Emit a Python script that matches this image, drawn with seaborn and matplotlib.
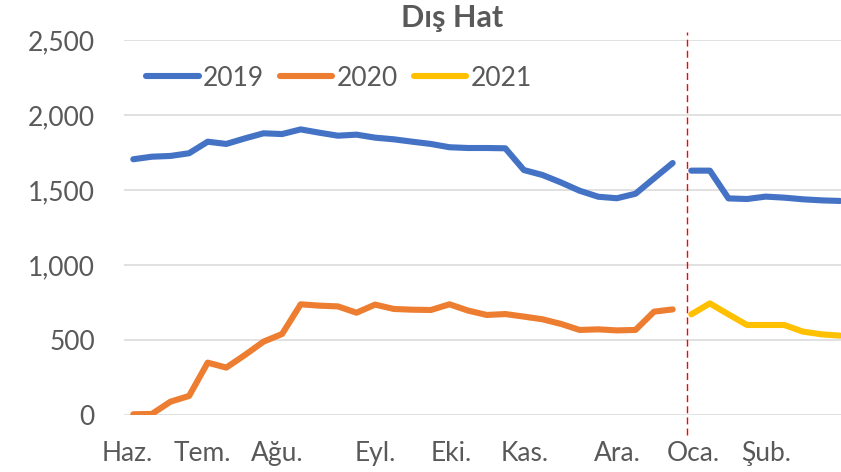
import numpy as np
import matplotlib
matplotlib.use("Agg")
import matplotlib.pyplot as plt
import seaborn as sns

# weekly values, Haziran -> Şubat (index 0..38), break between 29 and 30
weeks = list(range(39))
y2019 = [1705, 1722, 1727, 1745, 1822, 1807, 1844, 1878, 1873, 1904,
         1882, 1862, 1869, 1849, 1838, 1822, 1807, 1785, 1780, 1780,
         1778, 1633, 1600, 1550, 1495, 1455, 1445, 1475, 1578, 1680,
         1629, 1629, 1444, 1440, 1456, 1449, 1438, 1431, 1427]
y2020 = [5, 7, 89, 127, 349, 316, 400, 489, 540, 738,
         729, 724, 682, 736, 707, 702, 700, 738, 696, 667,
         673, 656, 638, 607, 567, 571, 564, 567, 689, 704]
y2021 = [671, 744, 671, 600, 600, 600, 556, 538, 529]

month_labels = ['Haz.', 'Tem.', 'Ağu.', 'Eyl.', 'Eki.', 'Kas.', 'Ara.', 'Oca.', 'Şub.']
month_pos = [-0.3, 3.7, 7.75, 13.0, 17.1, 21.05, 26.0, 30.1, 34.0]

sns.set_style("white")
plt.rcParams['font.family'] = ['Lato', 'DejaVu Sans']
grey = '#595959'

fig = plt.figure(figsize=(8.41, 4.72), dpi=100)
ax = fig.add_axes([124/841, 57/472, 1 - 124/841, 375/472])

lw = 4.4
kw = dict(linewidth=lw, solid_capstyle='round', solid_joinstyle='round', ax=ax)
sns.lineplot(x=weeks[:30], y=y2019[:30], color='#4472C4', label='2019', **kw)
sns.lineplot(x=weeks[30:], y=y2019[30:], color='#4472C4', **kw)
sns.lineplot(x=weeks[:30], y=y2020, color='#ED7D31', label='2020', **kw)
sns.lineplot(x=weeks[30:], y=y2021, color='#FFC000', label='2021', **kw)

# dashed year separator
ax.axvline(29.75, ymin=-0.053, ymax=1.022, color='#FF0000', linestyle=(0, (5, 3)),
           linewidth=1.0, clip_on=False, zorder=5)

ax.set_xlim(-0.5, 38.05)
ax.set_ylim(0, 2500)
ax.set_yticks([0, 500, 1000, 1500, 2000, 2500])
ax.set_yticklabels([f'{v:,}' for v in [0, 500, 1000, 1500, 2000, 2500]])
ax.set_xticks(month_pos)
ax.set_xticklabels(month_labels)
ax.tick_params(axis='y', length=0, pad=21, labelsize=19, labelcolor=grey)
ax.tick_params(axis='x', length=0, pad=19, labelsize=19, labelcolor=grey)
ax.grid(axis='y', color='#D9D9D9', linewidth=1.1)
ax.set_axisbelow(True)
for s in ax.spines.values():
    s.set_visible(False)
ax.set_xlabel('')
ax.set_ylabel('')

ax.legend(loc='center left', bbox_to_anchor=(146/841, 1 - 78/472),
          bbox_transform=fig.transFigure, ncol=3, frameon=False,
          fontsize=19, labelcolor=grey, handlelength=2.0, handletextpad=0.15,
          columnspacing=0.6, borderpad=0, borderaxespad=0)

fig.text(452/841, 1 - 27/472, 'Dış Hat', ha='center', va='baseline',
         fontsize=22, fontweight='bold', color=grey)

fig.savefig('out.png', dpi=100)
